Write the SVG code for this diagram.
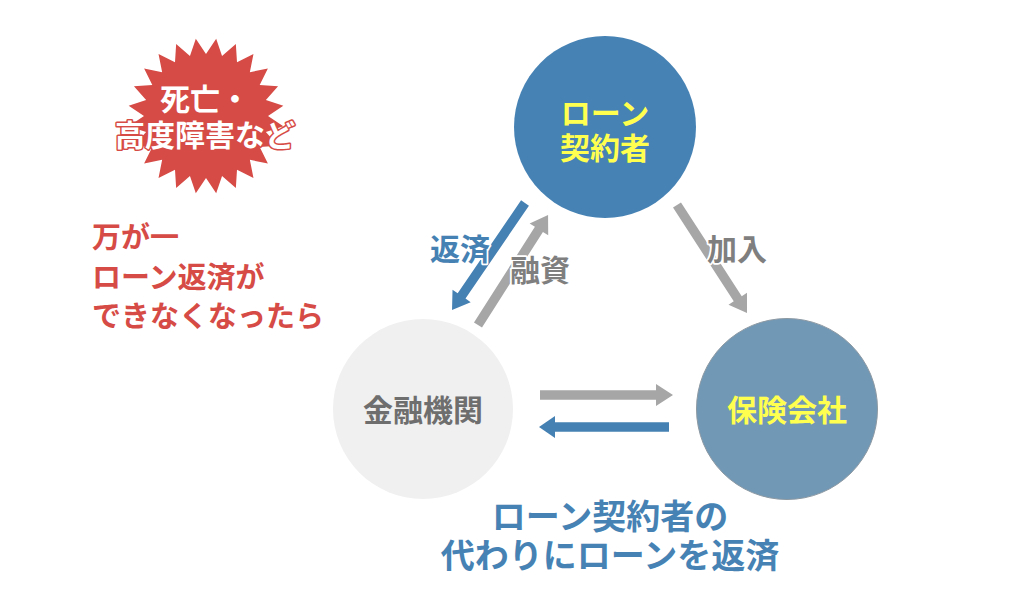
<svg xmlns="http://www.w3.org/2000/svg" width="1024" height="609" viewBox="0 0 1024 609">
<style>
text{font-family:"Noto Sans CJK JP","Noto Sans",sans-serif;font-weight:700;text-anchor:middle}
.yel{fill:#FFFF50;font-size:30px}
.gry{fill:#6E6E6E;font-size:30px}
.red{fill:#D64B45;font-size:29px;text-anchor:start}
.blu{fill:#4682B4;font-size:34px}
.lbl{font-size:30px;stroke:#FFFFFF;stroke-width:3.5px;paint-order:stroke;stroke-linejoin:round}
.ga{fill:#A6A6A6}
.ba{fill:#4681B3}
.star{fill:#D64B45}
.startx{fill:#FFFFFF;font-size:30px;stroke:#D64B45;stroke-width:3px;paint-order:stroke;stroke-linejoin:round}
</style>
<rect width="1024" height="609" fill="#FFFFFF"/>
<g id="burst">
<polygon class="star" transform="translate(206,116)" points="0,-62 10.18,-77.33 16.05,-59.89 29.85,-72.06 31,-53.69 47.48,-61.88 43.84,-43.84 61.88,-47.48 53.69,-31 72.06,-29.85 59.89,-16.05 77.33,-10.18 62,0 77.33,10.18 59.89,16.05 72.06,29.85 53.69,31 61.88,47.48 43.84,43.84 47.48,61.88 31,53.69 29.85,72.06 16.05,59.89 10.18,77.33 0,62 -10.18,77.33 -16.05,59.89 -29.85,72.06 -31,53.69 -47.48,61.88 -43.84,43.84 -61.88,47.48 -53.69,31 -72.06,29.85 -59.89,16.05 -77.33,10.18 -62,0 -77.33,-10.18 -59.89,-16.05 -72.06,-29.85 -53.69,-31 -61.88,-47.48 -43.84,-43.84 -47.48,-61.88 -31,-53.69 -29.85,-72.06 -16.05,-59.89 -10.18,-77.33"/>
<text class="startx" x="205" y="110"><tspan x="205" y="110">死亡・</tspan><tspan x="205" y="146">高度障害など</tspan></text>
</g>
<g id="condition">
<text class="red" x="92" y="248"><tspan x="92" y="248">万が一</tspan><tspan x="92" y="288">ローン返済が</tspan><tspan x="92" y="327">できなくなったら</tspan></text>
</g>
<g id="connectors">
<path class="ba" transform="translate(525,203) rotate(124.3)" d="M0,-4.75 H112.5 V-11 L129.5,0 L112.5,11 V4.75 H0 Z"/>
<path class="ga" transform="translate(478,325) rotate(-57.5)" d="M0,-4.75 H113.4 V-11 L130.4,0 L113.4,11 V4.75 H0 Z"/>
<path class="ga" transform="translate(677,205) rotate(57.05)" d="M0,-4.75 H111.7 V-11 L128.7,0 L111.7,11 V4.75 H0 Z"/>
<path class="ga" transform="translate(540,395)" d="M0,-4.75 H116 V-11 L133,0 L116,11 V4.75 H0 Z"/>
<path class="ba" transform="translate(669,427) rotate(180)" d="M0,-4.75 H114 V-11 L130,0 L114,11 V4.75 H0 Z"/>
<text class="lbl" x="460" y="260" fill="#4681B3">返済</text>
<text class="lbl" x="540" y="281" fill="#7F7F7F">融資</text>
<text class="lbl" x="737" y="260" fill="#7F7F7F">加入</text>
</g>
<g id="borrower">
<circle cx="605" cy="127" r="91" fill="#4682B4"/>
<text class="yel" x="605" y="124"><tspan x="605" y="124">ローン</tspan><tspan x="605" y="159">契約者</tspan></text>
</g>
<g id="bank">
<circle cx="423" cy="409" r="90" fill="#F0F0F0"/>
<text class="gry" x="423" y="421">金融機関</text>
</g>
<g id="insurer">
<circle cx="787" cy="409" r="90.5" fill="#7199B6" stroke="#8C98A2" stroke-width="1"/>
<text class="yel" x="787" y="421">保険会社</text>
</g>
<g id="result">
<text class="blu" x="610" y="529"><tspan x="610" y="529">ローン契約者の</tspan><tspan x="610" y="568">代わりにローンを返済</tspan></text>
</g>
</svg>
